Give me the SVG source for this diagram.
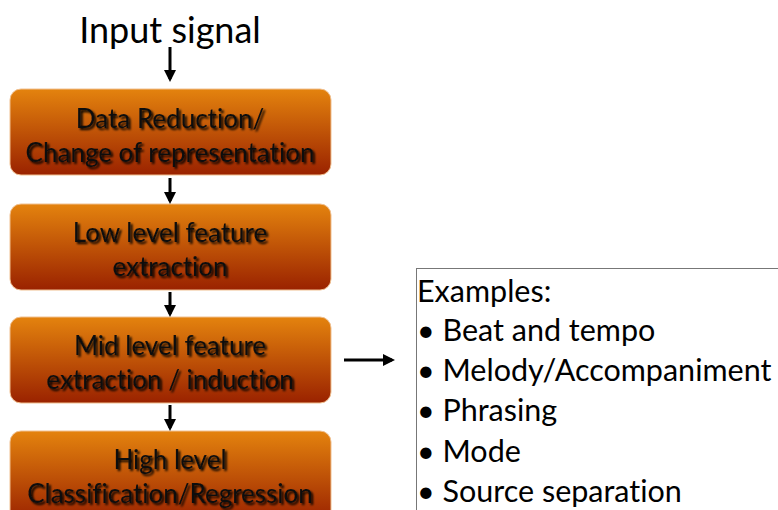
<svg xmlns="http://www.w3.org/2000/svg" width="778" height="510" viewBox="0 0 778 510">
<defs>
<linearGradient id="g" x1="0" y1="0" x2="0" y2="1">
<stop offset="0" stop-color="#e4830e"/>
<stop offset="1" stop-color="#9a2200"/>
</linearGradient>
<filter id="sh" x="-10%" y="-30%" width="120%" height="160%">
<feGaussianBlur in="SourceAlpha" stdDeviation="1.2"/>
<feOffset dx="2" dy="2" result="b"/>
<feMerge><feMergeNode in="b"/><feMergeNode in="SourceGraphic"/></feMerge>
</filter>
<marker id="ah" markerWidth="4" markerHeight="4" refX="3" refY="2" orient="auto" markerUnits="strokeWidth">
<path d="M0,0 L4,2 L0,4 z" fill="#000"/>
</marker>
</defs>
<style>
text{font-variant-ligatures:none}
.box{fill:url(#g);stroke:#f0c090;stroke-width:1}
.bt{font-family:Lato,"Open Sans",sans-serif;font-size:26px;fill:#111;text-anchor:middle;filter:url(#sh)}
.big{font-family:Lato,"Open Sans",sans-serif;font-size:30.5px;fill:#000}
.c{stroke:#000;stroke-width:3;fill:none;marker-end:url(#ah)}
</style>
<text class="big" x="170" y="43" text-anchor="middle" style="font-size:36px">Input signal</text>
<g id="n1"><rect class="box" x="10" y="89" width="321" height="86" rx="11"/>
<text class="bt" x="170" y="128">Data Reduction/</text>
<text class="bt" x="170" y="162">Change of representation</text></g>
<g id="n2"><rect class="box" x="10" y="204" width="321" height="86" rx="11"/>
<text class="bt" x="170" y="242">Low level feature</text>
<text class="bt" x="170" y="276">extraction</text></g>
<g id="n3"><rect class="box" x="10" y="317" width="321" height="86" rx="11"/>
<text class="bt" x="170" y="355">Mid level feature</text>
<text class="bt" x="170" y="389">extraction / induction</text></g>
<g id="n4"><rect class="box" x="10" y="431" width="321" height="90" rx="11"/>
<text class="bt" x="170" y="469">High level</text>
<text class="bt" x="170" y="503">Classification/Regression</text></g>
<g id="ex"><rect x="416.5" y="268.5" width="370" height="245" fill="#fff" stroke="#777" stroke-width="1"/>
<text class="big" x="417" y="302">Examples:</text>
<text class="big" x="417" y="341">• Beat and tempo</text>
<text class="big" x="417" y="381">• Melody/Accompaniment</text>
<text class="big" x="417" y="421">• Phrasing</text>
<text class="big" x="417" y="462">• Mode</text>
<text class="big" x="417" y="502">• Source separation</text></g>
<g id="connectors">
<path class="c" d="M170,47 V79"/>
<path class="c" d="M170,178 V201"/>
<path class="c" d="M170,292 V314"/>
<path class="c" d="M170,405 V428"/>
<path class="c" d="M344,360 H392"/>
</g>
</svg>
